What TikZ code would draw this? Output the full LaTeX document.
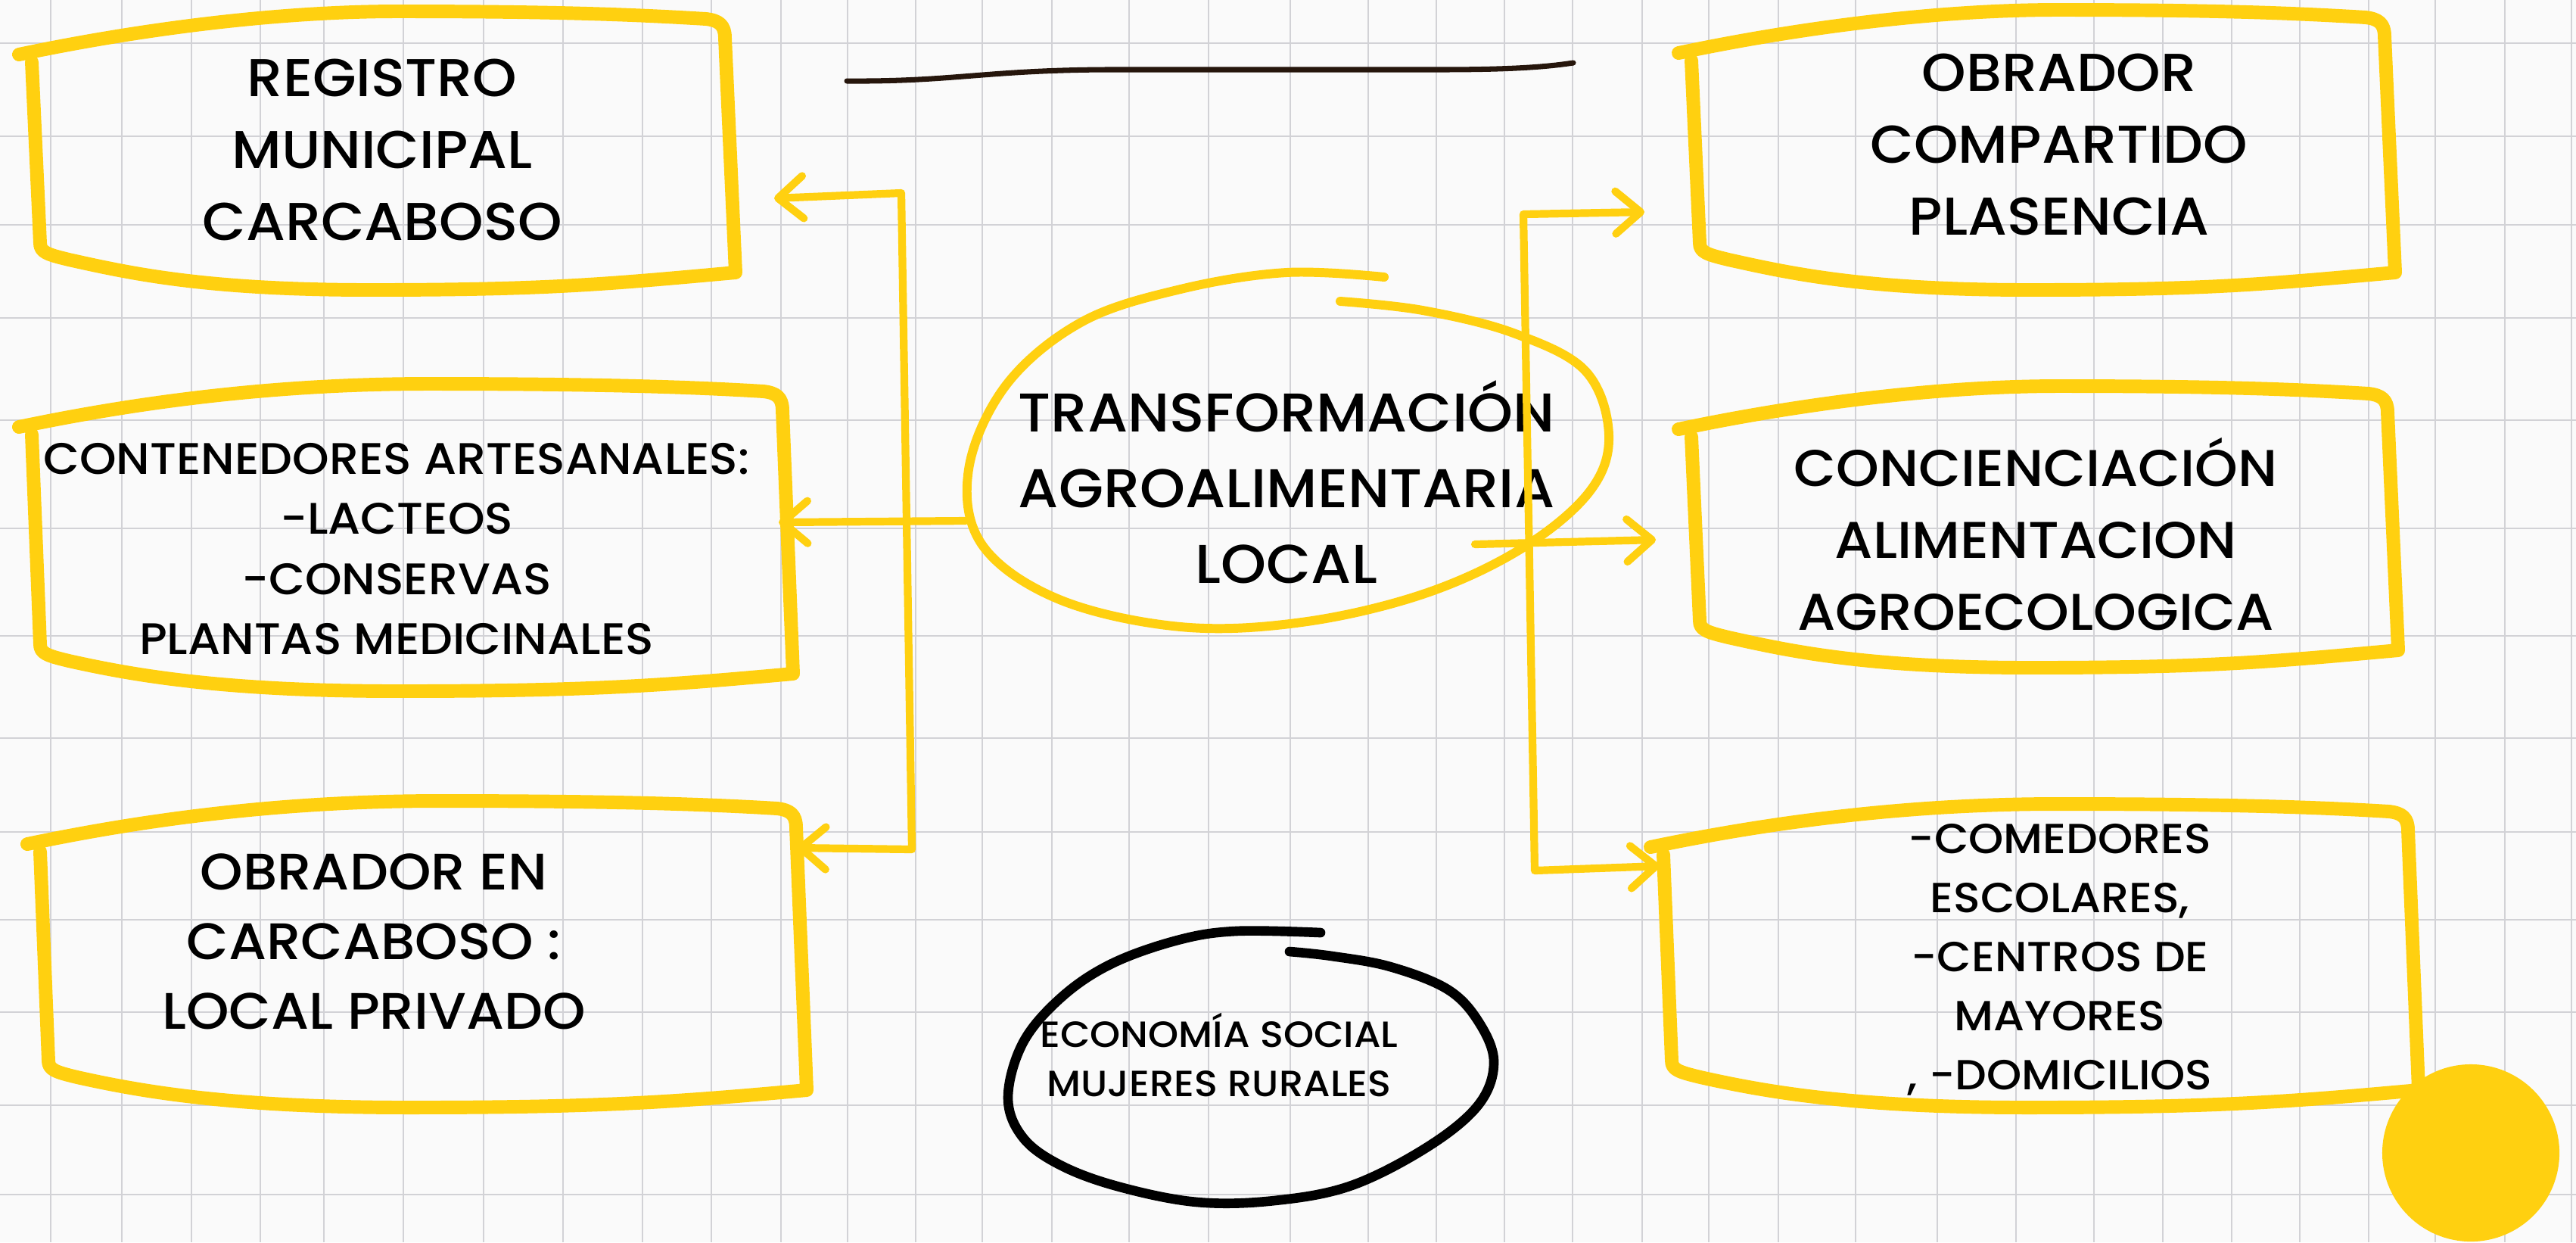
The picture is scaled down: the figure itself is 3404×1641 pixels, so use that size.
\documentclass[tikz,border=0pt]{standalone}
\usepackage{fontspec}
\setmainfont{Poppins}[UprightFont={* Medium}, FakeStretch=1.06]
\usetikzlibrary{arrows.meta,positioning}
\definecolor{marker}{RGB}{255,208,16}
\definecolor{ink}{RGB}{38,22,12}
\definecolor{paper}{RGB}{250,250,250}
\definecolor{gridline}{RGB}{210,210,214}
\tikzset{
  x=0.01cm, y=-0.01cm,
  >={Straight Barb[length=0.33cm,width=0.56cm,round]},
  handline/.style={draw=marker, line width=5.1pt, line cap=round, line join=round},
  arr/.style={draw=marker, line width=2.9pt, line cap=round, line join=round},
  loop/.style={line width=3.4pt, line cap=round},
  boxtext/.style={align=center, inner sep=0pt, text=black},
  bigtext/.style={boxtext, font=\fontsize{20pt}{27pt}\selectfont},
  smalltext/.style={boxtext, font=\fontsize{16.6pt}{22.6pt}\selectfont}
}
% hand drawn box: left, top, right, bottom (px)
\newcommand{\handframe}[4]{%
  \pgfmathsetmacro{\fw}{#3-#1}
  \draw[handline] ({#1-17},{#2+57}) .. controls ({#1+150},{#2+22}) and ({#1+330},{#2}) .. ({#1+0.53*\fw},{#2})
    .. controls ({#1+0.75*\fw},{#2}) and ({#3-120},{#2+4}) .. ({#3-22},{#2+10})
    .. controls ({#3-5},{#2+12}) and ({#3+3},{#2+18}) .. ({#3+3},{#2+35})
    -- ({#3+17},{#4-23})
    .. controls ({#3-150},{#4-8}) and ({#3-0.25*\fw},{#4}) .. ({#1+0.49*\fw},{#4})
    .. controls ({#1+0.25*\fw},{#4}) and ({#1+130},{#4-22}) .. ({#1+49},{#4-40})
    .. controls ({#1+20},{#4-47}) and ({#1+11},{#4-50}) .. ({#1+11},{#4-62})
    -- ({#1},{#2+67});
}

\begin{document}
\begin{tikzpicture}
  \useasboundingbox (0,0) rectangle (3404,1641);
  \fill[paper] (0,0) rectangle (3404,1641);

  % paper grid
  \foreach \gx in {67,161,253,344,428,533,639,744,849,940,1032,1120,1210,1298,1390,1492,1597,1705,1808,1898,1988,2078,2170,2258,2350,2452,2560,2664,2767,2858,2949,3039,3130,3218,3310,3398}
    \draw[gridline, line width=0.8pt] (\gx,0) -- (\gx,1641);
  \foreach \gy in {57,180,297,420,555,698,840,975,1099,1215,1337,1460,1578}
    \draw[gridline, line width=0.8pt] (0,\gy) -- (3404,\gy);

  % boxes
  \handframe{42}{15}{955}{383}
  \handframe{42}{507}{1031}{913}
  \handframe{53}{1058}{1049}{1463}
  \handframe{2235}{13}{3148}{383}
  \handframe{2235}{510}{3152}{882}
  \handframe{2198}{1062}{3179}{1463}

  \node[bigtext] (reg) at (505,198) {REGISTRO\\MUNICIPAL\\CARCABOSO};
  \node[smalltext] (cont) at (524,725) {CONTENEDORES ARTESANALES:\\-LACTEOS\\-CONSERVAS\\PLANTAS MEDICINALES};
  \node[bigtext, font=\fontsize{19.3pt}{26.2pt}\selectfont] (obr) at (494,1244) {OBRADOR EN\\CARCABOSO :\\LOCAL PRIVADO};
  \node[bigtext] (ocp) at (2721,191) {OBRADOR\\COMPARTIDO\\PLASENCIA};
  \node[bigtext, font=\fontsize{19.4pt}{27pt}\selectfont] (conc) at (2690,706) {CONCIENCIACIÓN\\ALIMENTACION\hspace*{0.3cm}\\AGROECOLOGICA};
  \node[smalltext, font=\fontsize{15.8pt}{22.2pt}\selectfont] (come) at (2722,1268) {-COMEDORES\\ESCOLARES,\\-CENTROS DE\\MAYORES\\, -DOMICILIOS};

  % centre
  \draw[loop, marker] plot[smooth, tension=0.6] coordinates {(1829,366) (1700,360) (1560,382) (1430,425) (1330,508) (1280,620) (1298,720) (1400,792) (1560,828) (1720,822) (1880,785) (2010,725) (2100,650) (2126,575) (2095,490) (2000,440) (1880,410) (1771,398)};
  \node[bigtext, font=\fontsize{20.5pt}{28.5pt}\selectfont] (trans) at (1700,637) {TRANSFORMACIÓN\\AGROALIMENTARIA\\LOCAL};

  \draw[loop, black, line width=3.6pt] plot[smooth, tension=0.6] coordinates {(1745,1232) (1633,1230) (1556,1242) (1469,1273) (1403,1317) (1352,1377) (1332,1450) (1352,1503) (1403,1540) (1480,1568) (1582,1588) (1684,1586) (1786,1566) (1888,1514) (1954,1459) (1974,1403) (1954,1350) (1913,1307) (1837,1277) (1760,1263) (1704,1257)};
  \node[boxtext, font=\fontsize{13.7pt}{18.5pt}\selectfont] (eco) at (1611,1393) {ECONOMÍA SOCIAL\\MUJERES RURALES};

  \draw[ink, line width=2pt, line cap=round] (1119,107) .. controls (1260,108) and (1300,93) .. (1460,92) -- (1900,92) .. controls (1990,92) and (2040,89) .. (2079,83);

  \node[circle, fill=marker, inner sep=0pt, minimum size=2.34cm] (dot) at (3265,1523) {};

  % arrows
  \coordinate (lt) at (1191,255);
  \coordinate (lb) at (1205,1122);
  \coordinate (rt) at (2013,283);
  \coordinate (rb) at (2028,1150);
  \coordinate (reg-in) at (1023,262);
  \coordinate (cont-in) at (1029,690);
  \coordinate (obr-in) at (1053,1120);
  \coordinate (ocp-in) at (2173,280);
  \coordinate (conc-in) at (2188,713);
  \coordinate (come-in) at (2193,1144);
  \coordinate (trans-w) at (1276,688);
  \coordinate (trans-e) at (1949,719);

  \draw[arr, <->] (reg-in) -- (lt) -- (lb) -- (obr-in);
  \draw[arr, ->] (trans-w) -- (cont-in);
  \draw[arr, <->] (ocp-in) -- (rt) -- (rb) -- (come-in);
  \draw[arr, ->] (trans-e) -- (conc-in);
\end{tikzpicture}
\end{document}
